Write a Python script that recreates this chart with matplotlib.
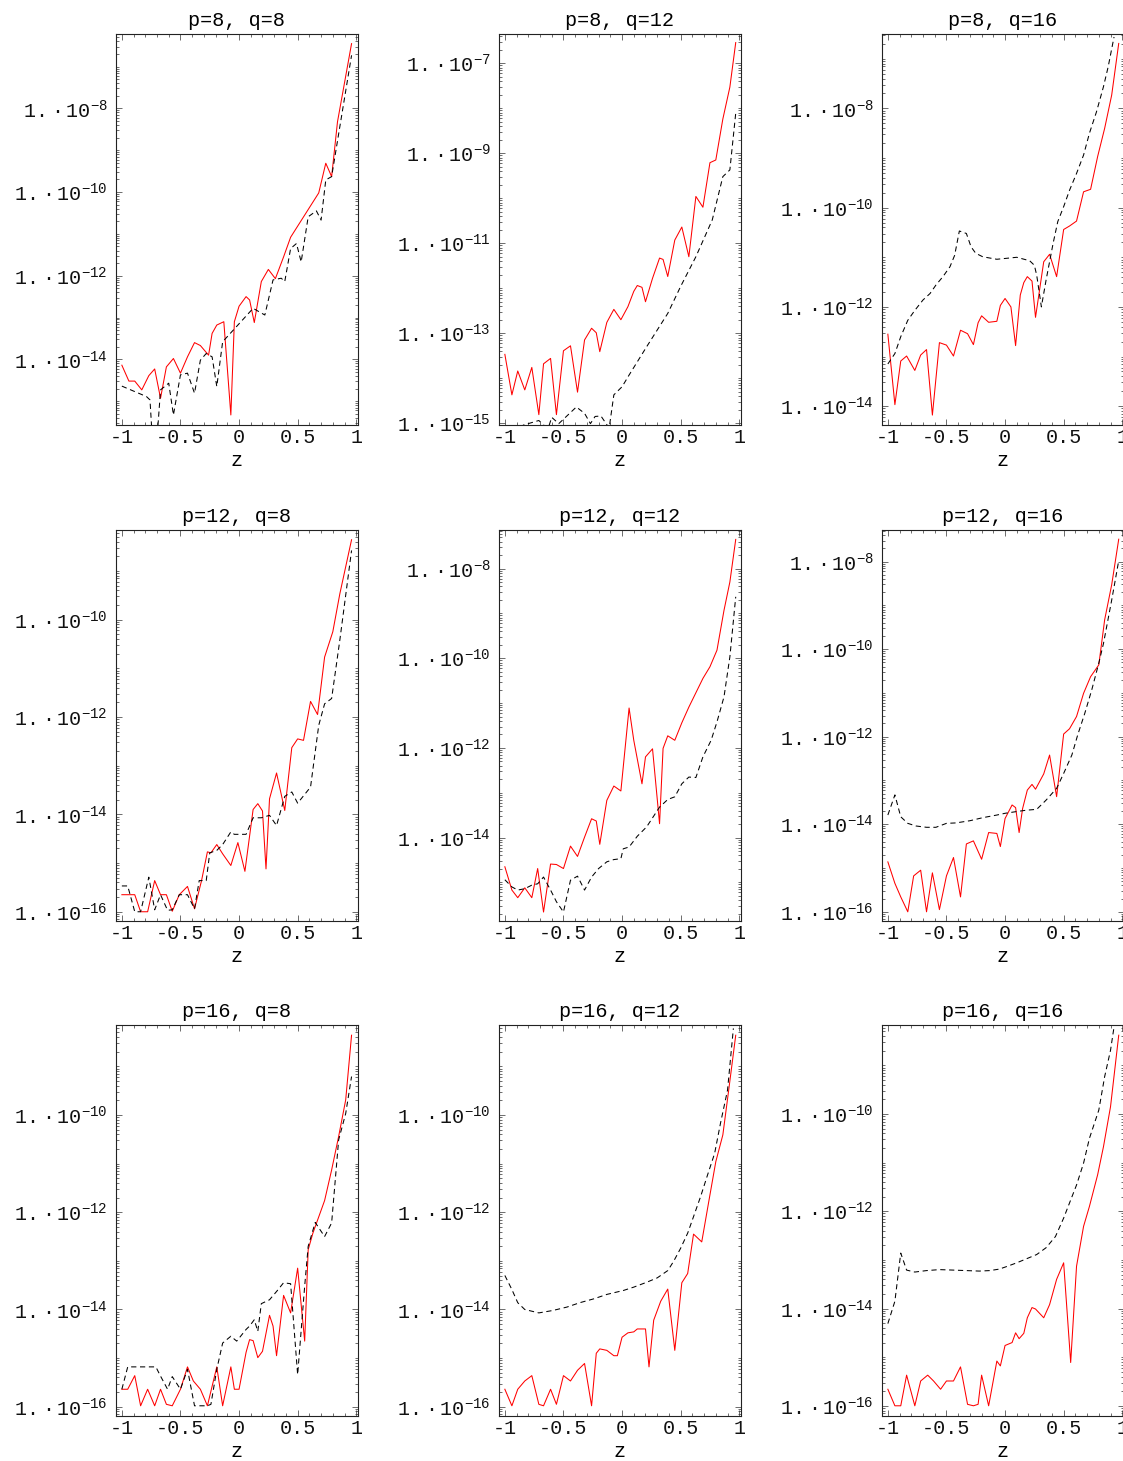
import math

import matplotlib
matplotlib.use("Agg")
import matplotlib.pyplot as plt
import numpy as np
from matplotlib.ticker import FixedFormatter, FixedLocator, NullFormatter

plt.rcParams["font.family"] = ["Liberation Mono", "DejaVu Sans"]
plt.rcParams["mathtext.fontset"] = "custom"
plt.rcParams["mathtext.rm"] = "Liberation Mono"
plt.rcParams["mathtext.it"] = "Liberation Mono"
plt.rcParams["axes.unicode_minus"] = False

# values are log10 of the error; solid = red curve, dashed = black curve

# p=8, q=8
z_8_8_solid = [-1, -0.94, -0.89, -0.83, -0.77, -0.72, -0.67, -0.62, -0.56, -0.50, -0.44, -0.38, -0.33, -0.26, -0.23,
               -0.19, -0.13, -0.07, -0.04, 0.0, 0.06, 0.09, 0.13, 0.19, 0.25, 0.31, 0.38, 0.44, 0.68, 0.74, 0.79, 0.84, 0.96]
e_8_8_solid = [-14.14, -14.52, -14.52, -14.73, -14.39, -14.23, -14.93, -14.18, -13.98, -14.33, -13.94, -13.60, -13.67,
               -13.90, -13.38, -13.18, -13.10, -15.33, -13.10, -12.73, -12.50, -12.58, -13.12, -12.14, -11.85, -12.07,
               -11.55, -11.08, -10.02, -9.31, -9.63, -8.32, -6.45]
z_8_8_dashed = [-1, -0.79, -0.76, -0.74, -0.70, -0.67, -0.60, -0.56, -0.50, -0.44, -0.38, -0.33, -0.28, -0.23, -0.19,
                -0.14, 0.12, 0.22, 0.29, 0.36, 0.39, 0.44, 0.49, 0.53, 0.59, 0.66, 0.70, 0.74, 0.79, 0.96]
e_8_8_dashed = [-14.64, -14.89, -14.97, -15.9, -15.9, -14.73, -14.57, -15.33, -14.37, -14.33, -14.81, -14.02, -13.86,
                -13.94, -14.65, -13.58, -12.78, -12.94, -12.10, -12.06, -12.14, -11.35, -11.23, -11.67, -10.59, -10.45,
                -10.67, -9.71, -9.63, -6.73]

# p=8, q=12
z_8_12_solid = [-1, -0.94, -0.89, -0.83, -0.77, -0.71, -0.67, -0.61, -0.56, -0.50, -0.44, -0.38, -0.32, -0.26, -0.22,
                -0.19, -0.13, -0.07, -0.01, 0.05, 0.10, 0.13, 0.17, 0.20, 0.26, 0.32, 0.35, 0.39, 0.45, 0.51, 0.57, 0.63,
                0.69, 0.75, 0.80, 0.86, 0.92, 0.97]
e_8_12_solid = [-13.47, -14.37, -13.84, -14.26, -13.76, -14.81, -13.68, -13.56, -14.81, -13.39, -13.28, -14.31, -13.15,
                -12.89, -12.99, -13.41, -12.76, -12.47, -12.70, -12.41, -12.07, -11.94, -11.98, -12.30, -11.78, -11.33,
                -11.36, -11.74, -10.93, -10.64, -11.30, -9.96, -10.20, -9.21, -9.15, -8.24, -7.53, -6.54]
z_8_12_dashed = [-1, -0.84, -0.71, -0.67, -0.63, -0.60, -0.54, -0.39, -0.32, -0.27, -0.23, -0.18, -0.11, -0.07, 0.0,
                 0.06, 0.21, 0.39, 0.50, 0.63, 0.77, 0.86, 0.92, 0.97]
e_8_12_dashed = [-15.3, -15.04, -14.94, -15.04, -15.11, -14.87, -15.01, -14.64, -14.78, -15.01, -14.85, -14.84, -15.11,
                 -14.37, -14.19, -13.93, -13.30, -12.56, -11.96, -11.30, -10.48, -9.52, -9.37, -8.11]

# p=8, q=16
z_8_16_solid = [-1, -0.94, -0.89, -0.84, -0.77, -0.72, -0.67, -0.62, -0.56, -0.50, -0.44, -0.38, -0.32, -0.27, -0.23,
                -0.20, -0.14, -0.07, -0.04, 0.0, 0.05, 0.09, 0.13, 0.16, 0.19, 0.23, 0.26, 0.33, 0.38, 0.44, 0.50, 0.55,
                0.61, 0.67, 0.73, 0.79, 0.85, 0.91, 0.97]
e_8_16_solid = [-12.55, -13.97, -13.09, -12.99, -13.28, -12.97, -12.86, -14.18, -12.72, -12.77, -12.99, -12.47, -12.54,
                -12.76, -12.32, -12.18, -12.31, -12.29, -11.97, -11.83, -12.0, -12.78, -11.76, -11.51, -11.39, -11.48,
                -12.21, -11.09, -10.94, -11.39, -10.44, -10.37, -10.27, -9.68, -9.63, -8.97, -8.40, -7.73, -6.69]
z_8_16_dashed = [-1, -0.94, -0.89, -0.83, -0.77, -0.70, -0.64, -0.59, -0.53, -0.47, -0.43, -0.39, -0.33, -0.29, -0.25,
                 -0.19, -0.07, 0.10, 0.21, 0.25, 0.27, 0.31, 0.35, 0.41, 0.45, 0.50, 0.55, 0.61, 0.67, 0.72, 0.78, 0.84,
                 0.88, 0.93]
e_8_16_dashed = [-13.15, -12.94, -12.60, -12.27, -12.07, -11.86, -11.73, -11.56, -11.39, -11.19, -10.96, -10.47, -10.52,
                 -10.79, -10.92, -10.99, -11.04, -11.00, -11.07, -11.16, -11.36, -12.0, -11.46, -10.72, -10.28, -9.98,
                 -9.65, -9.31, -8.94, -8.50, -8.07, -7.56, -7.16, -6.56]

# p=12, q=8
z_12_8_solid = [-1, -0.89, -0.84, -0.78, -0.72, -0.67, -0.62, -0.57, -0.51, -0.44, -0.38, -0.32, -0.27, -0.24, -0.19,
                -0.14, -0.07, -0.01, 0.05, 0.12, 0.16, 0.20, 0.23, 0.26, 0.32, 0.39, 0.45, 0.50, 0.55, 0.61, 0.67, 0.73,
                0.80, 0.86, 0.96]
e_12_8_solid = [-15.65, -15.65, -16.0, -16.0, -15.36, -15.65, -15.65, -15.99, -15.65, -15.48, -15.94, -15.36, -14.77,
                -14.79, -14.62, -14.81, -15.05, -14.58, -15.17, -13.90, -13.78, -13.93, -15.12, -13.68, -13.15, -13.92,
                -12.63, -12.45, -12.48, -11.68, -11.95, -10.77, -10.25, -9.47, -8.36]
z_12_8_dashed = [-1, -0.95, -0.89, -0.84, -0.77, -0.72, -0.67, -0.61, -0.57, -0.51, -0.44, -0.38, -0.34, -0.28, -0.25,
                 -0.19, -0.14, -0.07, -0.04, 0.06, 0.12, 0.19, 0.26, 0.32, 0.39, 0.45, 0.50, 0.61, 0.68, 0.73, 0.79,
                 0.86, 0.96]
e_12_8_dashed = [-15.47, -15.47, -16.0, -16.0, -15.29, -15.96, -15.65, -15.97, -15.96, -15.65, -15.65, -15.94, -15.36,
                 -15.36, -14.79, -14.74, -14.62, -14.36, -14.41, -14.41, -14.07, -14.07, -14.02, -14.23, -13.63, -13.54,
                 -13.77, -13.44, -12.17, -11.73, -11.62, -10.42, -8.58]

# p=12, q=12
z_12_12_solid = [-1, -0.94, -0.89, -0.83, -0.77, -0.72, -0.67, -0.61, -0.56, -0.50, -0.44, -0.38, -0.32, -0.26, -0.22,
                 -0.19, -0.13, -0.07, -0.01, 0.06, 0.10, 0.17, 0.20, 0.26, 0.32, 0.35, 0.39, 0.45, 0.51, 0.57, 0.63,
                 0.69, 0.75, 0.81, 0.87, 0.92, 0.97]
e_12_12_solid = [-14.65, -15.17, -15.34, -15.12, -15.34, -14.69, -15.66, -14.59, -14.60, -14.69, -14.19, -14.42, -13.99,
                 -13.58, -13.63, -14.15, -13.17, -12.85, -12.96, -11.11, -11.83, -12.80, -12.20, -12.02, -13.69, -12.01,
                 -11.73, -11.83, -11.44, -11.09, -10.77, -10.45, -10.19, -9.82, -8.93, -8.30, -7.35]
z_12_12_dashed = [-1, -0.94, -0.89, -0.83, -0.77, -0.72, -0.67, -0.61, -0.56, -0.50, -0.44, -0.38, -0.32, -0.26, -0.20,
                  -0.13, -0.07, -0.01, 0.01, 0.06, 0.13, 0.21, 0.32, 0.39, 0.45, 0.51, 0.57, 0.63, 0.69, 0.76, 0.81,
                  0.87, 0.92, 0.97]
e_12_12_dashed = [-14.94, -15.10, -15.17, -15.14, -15.06, -15.03, -14.88, -15.17, -15.43, -15.66, -14.95, -14.86, -15.17,
                  -14.88, -14.69, -14.54, -14.49, -14.47, -14.25, -14.21, -13.97, -13.76, -13.32, -13.15, -13.09, -12.80,
                  -12.65, -12.66, -12.20, -11.83, -11.42, -10.86, -9.97, -8.63]

# p=12, q=16
z_12_16_solid = [-1, -0.94, -0.89, -0.83, -0.78, -0.72, -0.67, -0.62, -0.56, -0.50, -0.44, -0.38, -0.33, -0.27, -0.20,
                 -0.14, -0.07, -0.04, 0.0, 0.06, 0.09, 0.12, 0.15, 0.19, 0.23, 0.26, 0.33, 0.38, 0.44, 0.50, 0.55, 0.61,
                 0.67, 0.73, 0.80, 0.85, 0.91, 0.97]
e_12_16_solid = [-14.86, -15.35, -15.66, -16.0, -15.18, -15.05, -16.0, -15.11, -15.95, -15.18, -14.76, -15.66, -14.45,
                 -14.38, -14.80, -14.19, -14.21, -14.51, -13.87, -13.56, -13.62, -14.19, -13.64, -13.22, -13.09, -13.20,
                 -12.85, -12.42, -13.37, -11.94, -11.82, -11.54, -11.01, -10.63, -10.36, -9.33, -8.53, -7.49]
z_12_16_dashed = [-1, -0.94, -0.89, -0.83, -0.76, -0.67, -0.59, -0.50, -0.42, -0.30, -0.19, -0.07, 0.0, 0.10, 0.18,
                  0.27, 0.35, 0.44, 0.50, 0.57, 0.62, 0.68, 0.74, 0.80, 0.84, 0.91, 0.97]
e_12_16_dashed = [-13.79, -13.33, -13.83, -13.98, -14.04, -14.07, -14.07, -13.98, -13.97, -13.92, -13.85, -13.79, -13.75,
                  -13.71, -13.68, -13.66, -13.45, -13.18, -12.84, -12.42, -11.96, -11.47, -10.93, -10.32, -9.87, -8.88,
                  -7.98]

# p=16, q=8
z_16_8_solid = [-1, -0.95, -0.89, -0.84, -0.78, -0.72, -0.67, -0.62, -0.57, -0.50, -0.44, -0.39, -0.33, -0.27, -0.19,
                -0.14, -0.07, -0.04, 0.0, 0.06, 0.09, 0.12, 0.16, 0.20, 0.26, 0.29, 0.32, 0.38, 0.44, 0.50, 0.56, 0.59,
                0.63, 0.73, 0.79, 0.85, 0.91, 0.96]
e_16_8_solid = [-15.64, -15.64, -15.36, -15.98, -15.64, -15.98, -15.64, -15.95, -15.98, -15.64, -15.18, -15.47, -15.64,
                -15.98, -15.18, -15.98, -15.18, -15.64, -15.64, -14.88, -14.62, -14.64, -14.99, -14.86, -14.12, -14.34,
                -14.95, -13.71, -14.07, -13.15, -14.65, -12.77, -12.43, -11.76, -11.13, -10.44, -9.69, -8.36]
z_16_8_dashed = [-1, -0.95, -0.89, -0.84, -0.78, -0.71, -0.67, -0.61, -0.57, -0.50, -0.44, -0.38, -0.32, -0.27, -0.24,
                 -0.19, -0.14, -0.07, -0.02, 0.06, 0.09, 0.13, 0.16, 0.19, 0.26, 0.32, 0.38, 0.44, 0.50, 0.56, 0.59,
                 0.65, 0.73, 0.79, 0.85, 0.91, 0.96]
e_16_8_dashed = [-15.64, -15.18, -15.18, -15.18, -15.18, -15.18, -15.37, -15.64, -15.38, -15.64, -15.23, -15.98, -15.98,
                 -15.98, -15.95, -15.23, -14.69, -14.55, -14.65, -14.41, -14.34, -14.21, -14.45, -13.88, -13.80, -13.63,
                 -13.45, -13.47, -15.34, -13.52, -12.70, -12.21, -12.50, -12.22, -10.51, -9.97, -9.21]

# p=16, q=12
z_16_12_solid = [-1, -0.94, -0.89, -0.83, -0.77, -0.71, -0.67, -0.61, -0.56, -0.50, -0.44, -0.38, -0.32, -0.26, -0.22,
                 -0.19, -0.13, -0.07, -0.04, 0.0, 0.05, 0.10, 0.13, 0.20, 0.23, 0.27, 0.33, 0.39, 0.45, 0.51, 0.56,
                 0.61, 0.68, 0.74, 0.80, 0.86, 0.91, 0.97]
e_16_12_solid = [-15.64, -15.98, -15.64, -15.47, -15.36, -15.95, -15.98, -15.64, -15.95, -15.36, -15.47, -15.25, -15.11,
                 -15.98, -14.90, -14.81, -14.84, -14.95, -14.95, -14.57, -14.48, -14.46, -14.40, -14.40, -15.18, -14.22,
                 -13.83, -13.58, -14.84, -13.45, -13.26, -12.45, -12.61, -11.78, -10.96, -10.41, -9.49, -8.36]
z_16_12_dashed = [-1, -0.94, -0.89, -0.83, -0.71, -0.59, -0.47, -0.36, -0.24, -0.13, 0.01, 0.10, 0.21, 0.30, 0.39,
                  0.44, 0.50, 0.56, 0.61, 0.67, 0.73, 0.79, 0.84, 0.90, 0.95]
e_16_12_dashed = [-13.30, -13.59, -13.86, -14.0, -14.07, -14.02, -13.95, -13.86, -13.78, -13.69, -13.61, -13.54, -13.44,
                  -13.35, -13.20, -13.01, -12.74, -12.43, -12.09, -11.68, -11.23, -10.79, -10.17, -9.49, -8.22]

# p=16, q=16
z_16_16_solid = [-1, -0.94, -0.89, -0.84, -0.77, -0.72, -0.66, -0.61, -0.55, -0.50, -0.44, -0.38, -0.32, -0.27, -0.23,
                 -0.20, -0.14, -0.07, -0.04, 0.0, 0.06, 0.09, 0.12, 0.16, 0.19, 0.23, 0.26, 0.33, 0.38, 0.44, 0.50,
                 0.56, 0.61, 0.67, 0.72, 0.79, 0.84, 0.90, 0.97]
e_16_16_solid = [-15.66, -16.0, -16.0, -15.37, -16.0, -15.49, -15.37, -15.49, -15.66, -15.49, -15.49, -15.20, -15.97,
                 -16.0, -15.97, -15.37, -16.0, -15.08, -15.18, -14.76, -14.70, -14.50, -14.62, -14.51, -14.19, -13.98,
                 -14.01, -14.19, -13.92, -13.40, -13.06, -15.11, -13.13, -12.31, -11.90, -11.25, -10.67, -9.85, -8.38]
z_16_16_dashed = [-1, -0.94, -0.89, -0.84, -0.77, -0.67, -0.56, -0.44, -0.33, -0.22, -0.13, -0.05, 0.01, 0.10, 0.18,
                  0.27, 0.35, 0.43, 0.50, 0.55, 0.61, 0.67, 0.72, 0.80, 0.85, 0.90, 0.93]
e_16_16_dashed = [-14.31, -13.85, -12.86, -13.21, -13.25, -13.22, -13.20, -13.21, -13.22, -13.23, -13.22, -13.19, -13.14,
                  -13.06, -12.98, -12.89, -12.75, -12.52, -12.14, -11.83, -11.46, -11.01, -10.50, -9.92, -9.23, -8.69,
                  -8.21]

titles = ["p=8, q=8", "p=8, q=12", "p=8, q=16",
          "p=12, q=8", "p=12, q=12", "p=12, q=16",
          "p=16, q=8", "p=16, q=12", "p=16, q=16"]
# visible range of each panel, as log10 (bottom, top)
y_ranges = [(-15.57, -6.22), (-15.04, -6.35), (-14.38, -6.50),
            (-16.19, -8.16), (-15.86, -7.14), (-16.21, -7.28),
            (-16.19, -8.15), (-16.19, -8.15), (-16.21, -8.17)]
# lowest labelled decade; labels every second decade from there
first_label = [-14, -15, -14, -16, -14, -16, -16, -16, -16]
x_ticks = [-1, -0.5, 0, 0.5, 1]
x_tick_labels = ["-1", "-0.5", "0", "0.5", "1"]

panels = [
    (z_8_8_solid, e_8_8_solid, z_8_8_dashed, e_8_8_dashed),
    (z_8_12_solid, e_8_12_solid, z_8_12_dashed, e_8_12_dashed),
    (z_8_16_solid, e_8_16_solid, z_8_16_dashed, e_8_16_dashed),
    (z_12_8_solid, e_12_8_solid, z_12_8_dashed, e_12_8_dashed),
    (z_12_12_solid, e_12_12_solid, z_12_12_dashed, e_12_12_dashed),
    (z_12_16_solid, e_12_16_solid, z_12_16_dashed, e_12_16_dashed),
    (z_16_8_solid, e_16_8_solid, z_16_8_dashed, e_16_8_dashed),
    (z_16_12_solid, e_16_12_solid, z_16_12_dashed, e_16_12_dashed),
    (z_16_16_solid, e_16_16_solid, z_16_16_dashed, e_16_16_dashed),
]

W, H = 1123, 1461
col_left = [116, 499, 882]
row_top = [34, 530, 1025]
ax_w, ax_h = 242, 391
FS = 14.5

fig = plt.figure(figsize=(W / 100, H / 100), dpi=100)

for i, (zs, es, zd, ed) in enumerate(panels):
    r, c = divmod(i, 3)
    ax = fig.add_axes([col_left[c] / W, 1 - (row_top[r] + ax_h) / H, ax_w / W, ax_h / H])
    ax.set_yscale("log")
    ax.plot(zs, 10.0 ** np.array(es), color="#ff0000", lw=0.75)
    ax.plot(zd, 10.0 ** np.array(ed), color="black", lw=0.75, ls=(0, (5, 3.5)))

    lo, hi = y_ranges[i]
    ax.set_xlim(-1.05, 1.015)
    ax.set_ylim(10.0 ** lo, 10.0 ** hi)

    lab = list(range(first_label[i], math.floor(hi) + 1, 2))
    ax.yaxis.set_major_locator(FixedLocator([10.0 ** e for e in lab]))
    ax.yaxis.set_major_formatter(FixedFormatter([r"$\mathrm{1.\,·\,10^{%d}}$" % e for e in lab]))
    minors = []
    for e in range(math.floor(lo), math.ceil(hi)):
        for k in range(1, 10):
            if k == 1 and e in lab:
                continue
            minors.append(k * 10.0 ** e)
    ax.yaxis.set_minor_locator(FixedLocator(minors))
    ax.yaxis.set_minor_formatter(NullFormatter())

    ax.set_xticks(x_ticks)
    ax.set_xticklabels(x_tick_labels)
    ax.set_xticks(np.arange(-1.0, 1.01, 0.1), minor=True)

    ax.tick_params(which="both", direction="in", top=True, right=True, width=0.5, colors="#333333")
    ax.tick_params(which="major", length=4, labelsize=FS, labelcolor="#111111")
    ax.tick_params(which="minor", length=2)
    ax.tick_params(axis="y", which="major", pad=6)
    ax.tick_params(axis="x", which="major", pad=2)
    for s in ax.spines.values():
        s.set_linewidth(0.8)
        s.set_color("#222222")

    ax.set_title(titles[i], fontsize=FS, pad=6)
    ax.set_xlabel("z", fontsize=FS, labelpad=3)

fig.savefig("out.png", dpi=100, facecolor="white")
